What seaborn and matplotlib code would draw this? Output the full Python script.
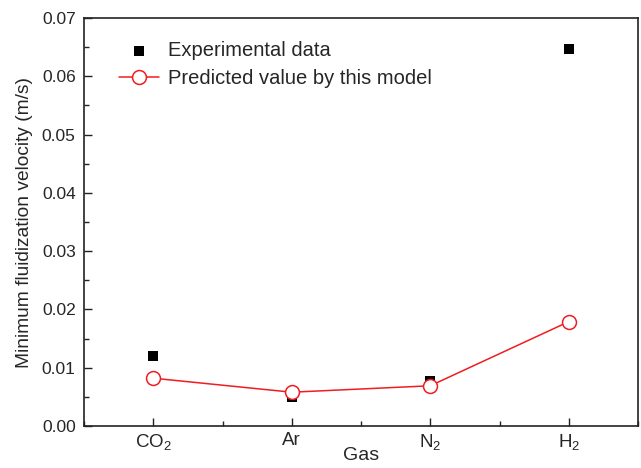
import matplotlib
matplotlib.use("Agg")
import matplotlib.pyplot as plt
import seaborn as sns
import pandas as pd
import numpy as np
from matplotlib.ticker import MultipleLocator

gases = ["CO$_\\mathregular{2}$", "Ar", "N$_\\mathregular{2}$", "H$_\\mathregular{2}$"]
experimental = [0.0120, 0.0049, 0.0077, 0.0647]
predicted = [0.0082, 0.0058, 0.0069, 0.0179]

sns.set_style("white")
plt.rcParams['font.family'] = ['Liberation Sans', 'DejaVu Sans']
plt.rcParams['mathtext.fontset'] = 'custom'
plt.rcParams['mathtext.rm'] = 'Liberation Sans'
plt.rcParams['mathtext.it'] = 'Liberation Sans:italic'
plt.rcParams['mathtext.bf'] = 'Liberation Sans:bold'

df = pd.DataFrame({"pos": np.arange(len(gases)), "gas": gases,
                   "exp": experimental, "pred": predicted})

fig = plt.figure(figsize=(6.41, 4.68), dpi=100)
ax = fig.add_axes([84/641, 42/468, 554/641, 408/468])

sns.scatterplot(data=df, x="pos", y="exp", ax=ax, marker="s", color="black",
                s=55, edgecolor="black", linewidth=0, label="Experimental data", zorder=3)
sns.lineplot(data=df, x="pos", y="pred", ax=ax, color="#f01c20", linewidth=1.1,
             marker="o", markersize=10, markerfacecolor="white",
             markeredgecolor="#f01c20", markeredgewidth=1.1,
             label="Predicted value by this model", zorder=4)

ax.set_xlim(-0.5, 3.5)
ax.set_ylim(0, 0.07)
ax.set_xticks(df["pos"])
ax.set_xticklabels(gases)
ax.xaxis.set_minor_locator(MultipleLocator(0.5))
ax.yaxis.set_major_locator(MultipleLocator(0.01))
ax.yaxis.set_minor_locator(MultipleLocator(0.005))
ax.yaxis.set_major_formatter(matplotlib.ticker.FormatStrFormatter("%.2f"))

ax.tick_params(which="both", direction="in", top=False, right=False,
               bottom=True, left=True, color="#222222", width=1.0)
ax.tick_params(which="major", length=6, labelsize=12.5, pad=6)
ax.tick_params(axis="x", which="major", labelsize=13.5, pad=4)
ax.tick_params(which="minor", length=3.5)
for sp in ax.spines.values():
    sp.set_color("#222222")
    sp.set_linewidth(1.2)

ax.set_xlabel("Gas", fontsize=14, labelpad=-3)
ax.set_ylabel("Minimum fluidization velocity (m/s)", fontsize=13.8, labelpad=6)

leg = ax.legend(loc="upper left", bbox_to_anchor=(0.048, 0.963), frameon=False,
                fontsize=14.5, handlelength=2.0, handletextpad=0.45,
                labelspacing=0.42, borderaxespad=0)

fig.savefig("out.png", dpi=100)
